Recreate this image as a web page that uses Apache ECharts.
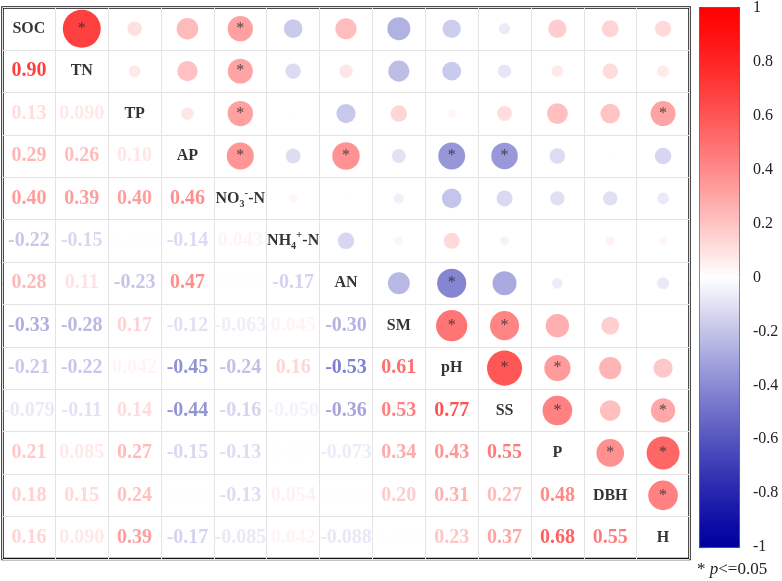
<!DOCTYPE html>
<html lang="en">
<head>
    <meta charset="UTF-8">
    <title>Correlation matrix</title>
    <script type="text/javascript" src="https://cdn.jsdelivr.net/npm/echarts@6/dist/echarts.min.js"></script>
    <style>
        html, body { margin: 0; padding: 0; background: #fff; }
    </style>
</head>
<body>
    <div id="main" style="width: 782px;height:581px;"></div>
    <script type="text/javascript">
        // variable names (row / column order)
        var names = ['SOC', 'TN', 'TP', 'AP', 'NO3-N', 'NH4-N', 'AN', 'SM', 'pH', 'SS', 'P', 'DBH', 'H'];

        // lower triangle, one array per row (values left of the diagonal)
        var rTN  = [0.90];
        var rTP  = [0.13, 0.090];
        var rAP  = [0.29, 0.26, 0.10];
        var rNO3 = [0.40, 0.39, 0.40, 0.46];
        var rNH4 = [-0.22, -0.15, 0.008, -0.14, 0.043];
        var rAN  = [0.28, 0.11, -0.23, 0.47, 0.006, -0.17];
        var rSM  = [-0.33, -0.28, 0.17, -0.12, -0.063, 0.045, -0.30];
        var rPH  = [-0.21, -0.22, 0.042, -0.45, -0.24, 0.16, -0.53, 0.61];
        var rSS  = [-0.079, -0.11, 0.14, -0.44, -0.16, -0.050, -0.36, 0.53, 0.77];
        var rP   = [0.21, 0.085, 0.27, -0.15, -0.13, 0.007, -0.073, 0.34, 0.43, 0.55];
        var rDBH = [0.18, 0.15, 0.24, 0.009, -0.13, 0.054, 0.006, 0.20, 0.31, 0.27, 0.48];
        var rH   = [0.16, 0.090, 0.39, -0.17, -0.085, 0.042, -0.088, 0.008, 0.23, 0.37, 0.68, 0.55];

        // significant pairs (p<=0.05), [row, col] in the upper triangle
        var sigPairs = [[0, 1], [0, 4], [1, 4], [2, 4], [2, 12], [3, 4], [3, 6], [3, 8], [3, 9],
            [6, 8], [7, 8], [7, 9], [8, 9], [8, 10], [9, 10], [9, 12], [10, 11], [10, 12], [11, 12]];

        // colour bar ticks
        var barMin = -1, barMax = 1, barStep = 0.2;

        var rows = [[], rTN, rTP, rAP, rNO3, rNH4, rAN, rSM, rPH, rSS, rP, rDBH, rH];
        var serif = 'Liberation Serif';

        // blue - white - red, slightly curved so mid values are stronger
        function corrColor(v, gamma) {
            var t = Math.min(1, Math.abs(v)), r, g, b;
            var w = Math.pow(1 - t, gamma || 1.2);
            if (v >= 0) {
                r = 255; g = b = Math.round(255 * w);
            } else {
                r = g = Math.round(255 * w); b = Math.round(160 + 95 * w);
            }
            return 'rgb(' + r + ',' + g + ',' + b + ')';
        }

        function fmt(v) {
            return Math.abs(v) >= 0.1 ? v.toFixed(2) : v.toFixed(3);
        }

        function isSig(i, j) {
            for (var k = 0; k < sigPairs.length; k++) {
                if (sigPairs[k][0] === i && sigPairs[k][1] === j) return true;
            }
            return false;
        }

        var circles = [], numbers = [], diag = [];
        for (var i = 0; i < rows.length; i++) {
            for (var j = 0; j < rows[i].length; j++) {
                var v = rows[i][j];
                // number below the diagonal
                numbers.push({
                    value: [j, i, v],
                    label: { color: corrColor(v, 1.3) }
                });
                // circle above the diagonal (mirrored)
                circles.push({
                    value: [i, j, v],
                    sig: isSig(j, i),
                    itemStyle: { color: corrColor(v) }
                });
            }
            diag.push({ value: [i, i], name: names[i] });
        }

        // gradient stops for the colour bar
        var barColors = [];
        for (var s = 0; s <= 40; s++) {
            barColors.push(corrColor(-1 + s * 0.05));
        }

        var diagText = {
            'NO3-N': 'NO{sub|3}{sup|-}-N',
            'NH4-N': 'NH{sub|4}{sup|+}-N'
        };

        var myChart = echarts.init(document.getElementById('main'));

        var option = {
            backgroundColor: '#fff',
            animation: false,
            grid: [{
                left: 2.5, top: 7.5, width: 687, height: 551.5,
                show: true, borderColor: '#111', borderWidth: 2.5, backgroundColor: 'transparent'
            }, {
                left: 699, top: 7, width: 40, height: 540,
                show: false
            }],
            xAxis: [{
                type: 'category', gridIndex: 0, data: names,
                axisLine: { show: false }, axisTick: { show: false }, axisLabel: { show: false },
                splitLine: { show: true, interval: 0, lineStyle: { color: '#e4e4e4', width: 1 } }
            }, {
                type: 'value', gridIndex: 1, min: 0, max: 1, show: false
            }],
            yAxis: [{
                type: 'category', gridIndex: 0, data: names, inverse: true,
                axisLine: { show: false }, axisTick: { show: false }, axisLabel: { show: false },
                splitLine: { show: true, interval: 0, lineStyle: { color: '#e4e4e4', width: 1 } }
            }, {
                type: 'value', gridIndex: 1, position: 'right',
                min: barMin, max: barMax, interval: barStep,
                axisLine: { show: false },
                axisTick: { show: true, length: 9, lineStyle: { color: '#555', width: 1.2 } },
                axisLabel: {
                    margin: 14, color: '#222', fontFamily: serif, fontSize: 16,
                    formatter: function (v) { return String(Math.round(v * 10) / 10); }
                },
                splitLine: { show: false }
            }],
            visualMap: {
                type: 'continuous',
                min: barMin, max: barMax,
                seriesIndex: 3,
                orient: 'vertical',
                left: 699, top: 7,
                itemWidth: 40, itemHeight: 540,
                padding: 0,
                calculable: false,
                showLabel: false,
                text: null,
                borderColor: '#444', borderWidth: 1,
                inRange: { color: barColors }
            },
            graphic: [{
                type: 'text',
                left: 697, top: 561,
                style: {
                    text: '* {i|p}<=0.05',
                    fontSize: 17, fontFamily: serif,
                    fill: '#222',
                    rich: { i: { fontStyle: 'italic', fontSize: 17, fontFamily: serif, fill: '#222' } }
                }
            }],
            series: [{
                // circles, upper triangle
                type: 'scatter', xAxisIndex: 0, yAxisIndex: 0,
                data: circles,
                symbol: 'circle',
                symbolSize: function (d) { return 40 * Math.sqrt(Math.abs(d[2])); },
                label: {
                    show: true, position: 'inside',
                    formatter: function (p) { return p.data.sig ? '*' : ''; },
                    color: '#2a2a2a', fontSize: 16, fontFamily: serif
                },
                z: 2
            }, {
                // numbers, lower triangle
                type: 'scatter', xAxisIndex: 0, yAxisIndex: 0,
                data: numbers,
                symbolSize: 1,
                itemStyle: { color: 'rgba(0,0,0,0)' },
                label: {
                    show: true, position: 'inside',
                    formatter: function (p) { return fmt(p.value[2]); },
                    fontSize: 20, fontWeight: 'bold', fontFamily: serif
                },
                z: 3
            }, {
                // variable names on the diagonal
                type: 'scatter', xAxisIndex: 0, yAxisIndex: 0,
                data: diag,
                symbolSize: 1,
                itemStyle: { color: 'rgba(0,0,0,0)' },
                label: {
                    show: true, position: 'inside',
                    formatter: function (p) { return diagText[p.name] || p.name; },
                    color: '#000', fontSize: 16, fontWeight: 'bold', fontFamily: serif, lineHeight: 22,
                    rich: {
                        sub: { fontSize: 10, fontWeight: 'bold', fontFamily: serif, color: '#000', lineHeight: 12, verticalAlign: 'bottom' },
                        sup: { fontSize: 11, fontWeight: 'bold', fontFamily: serif, color: '#000', lineHeight: 12, verticalAlign: 'top' }
                    }
                },
                z: 3
            }, {
                // placeholder for the colour bar
                type: 'scatter', xAxisIndex: 1, yAxisIndex: 1,
                data: [],
                silent: true
            }]
        };

        myChart.setOption(option);
    </script>
</body>
</html>
